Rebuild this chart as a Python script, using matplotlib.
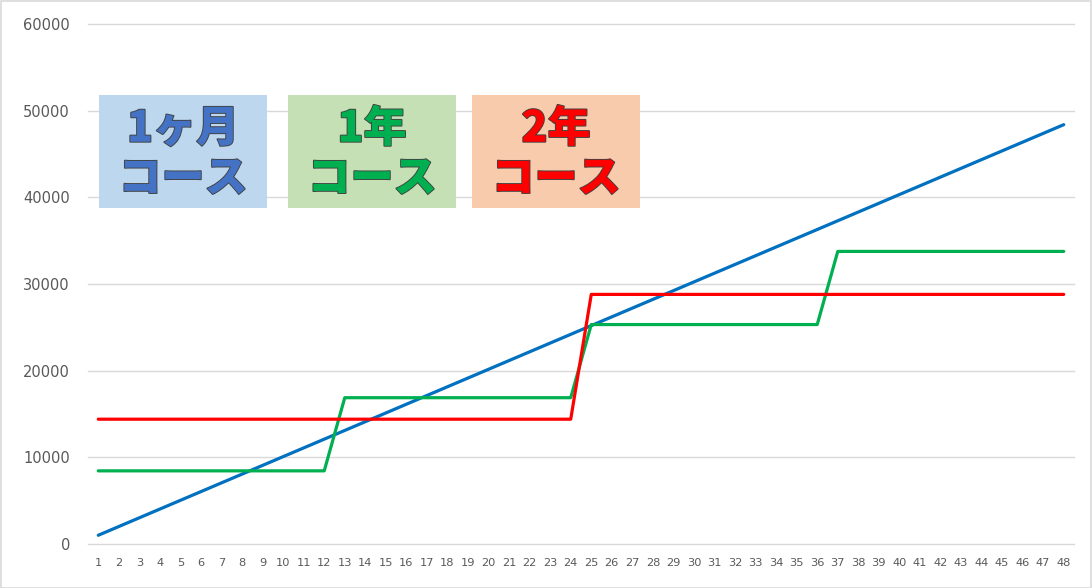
import matplotlib
matplotlib.use("Agg")
import matplotlib.pyplot as plt
import matplotlib.patheffects as pe
from matplotlib.patches import Rectangle

months = list(range(1, 49))
monthly_course = [1008 * m for m in months]
year1_course = [8440] * 12 + [16880] * 12 + [25320] * 12 + [33760] * 12
year2_course = [14400] * 24 + [28800] * 24
y_ticks = [0, 10000, 20000, 30000, 40000, 50000, 60000]

labels = ["1ヶ月\nコース", "1年\nコース", "2年\nコース"]
box_colors = ["#BDD7EE", "#C5E0B4", "#F8CBAD"]
text_colors = ["#4472C4", "#00B050", "#FF0000"]

W, H = 1092, 588
fig = plt.figure(figsize=(W / 100, H / 100), dpi=100)
fig.patch.set_facecolor("white")
ax = fig.add_axes([88 / W, 1 - 544 / H, (1074 - 88) / W, (544 - 24) / H])

ax.plot(months, monthly_course, color="#0070C0", lw=2.3, solid_capstyle="round", zorder=3)
ax.plot(months, year1_course, color="#00B050", lw=2.3, solid_capstyle="round", zorder=3)
ax.plot(months, year2_course, color="#FF0000", lw=2.3, solid_capstyle="round", zorder=3)

ax.set_xlim(0.5, 48.5)
ax.set_ylim(0, 60000)
ax.set_yticks(y_ticks)
ax.set_yticklabels([str(v) for v in y_ticks], fontsize=10.5, color="#595959")
ax.set_xticks(months)
ax.set_xticklabels([str(m) for m in months], fontsize=8.2, color="#595959")
ax.tick_params(axis="both", length=0)
ax.tick_params(axis="y", pad=13)
ax.tick_params(axis="x", pad=10)
ax.grid(axis="y", color="#D9D9D9", lw=1)
for gl in ax.get_ygridlines():
    gl.set_clip_on(False)
ax.set_axisbelow(True)
for s in ax.spines.values():
    s.set_visible(False)

# figure border
fig.add_artist(Rectangle((0.5 / W, 0.5 / H), 1 - 1.5 / W, 1 - 1.5 / H, transform=fig.transFigure,
                         fill=False, ec="#D9D9D9", lw=1.2))

boxes = [(99, 267), (288, 456), (472, 640)]
for (x0, x1), lab, bc, tc in zip(boxes, labels, box_colors, text_colors):
    fig.add_artist(Rectangle((x0 / W, 1 - 208 / H), (x1 - x0) / W, (208 - 95) / H,
                             transform=fig.transFigure, fc=bc, ec="none", zorder=5))
    l1, l2 = lab.split("\n")
    for txt, yc in [(l1, 129), (l2, 179)]:
        fig.text((x0 + x1) / 2 / W, 1 - yc / H, txt, ha="center", va="center",
                 fontsize=31, fontweight="black", color=tc,
                 family=["Noto Sans CJK JP", "DejaVu Sans"], zorder=6,
                 path_effects=[pe.withStroke(linewidth=1.3, foreground="#404040")])

fig.savefig("out.png", dpi=100)
